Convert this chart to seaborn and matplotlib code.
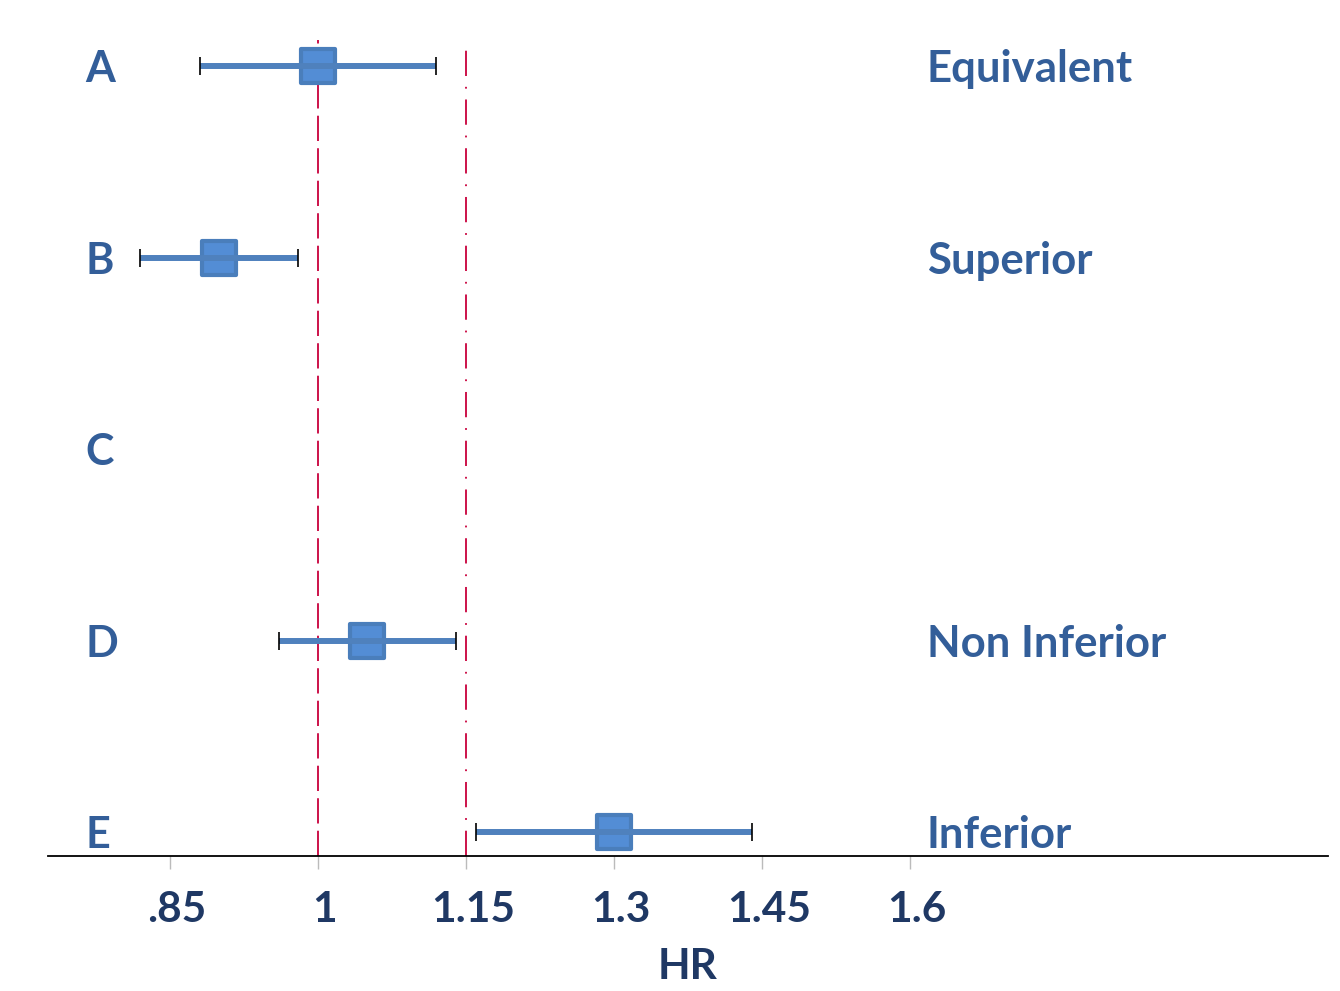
import matplotlib

matplotlib.use("Agg")

import matplotlib.pyplot as plt
import matplotlib.transforms as mtransforms
import numpy as np
import pandas as pd
import seaborn as sns


# Study rows, top to bottom
studies = ["A", "B", "C", "D", "E"]
rows = [5, 4, 3, 2, 1]
hr = [1.00, 0.90, np.nan, 1.05, 1.30]
ci_low = [0.88, 0.82, np.nan, 0.96, 1.16]
ci_high = [1.12, 0.98, np.nan, 1.14, 1.44]
verdicts = ["Equivalent", "Superior", "", "Non Inferior", "Inferior"]

tick_values = [0.85, 1.0, 1.15, 1.3, 1.45, 1.6]
tick_labels = [".85", "1", "1.15", "1.3", "1.45", "1.6"]

reference_hr = 1.0
margin_hr = 1.15

LABEL_COLOR = "#335E99"
TICK_COLOR = "#1F3864"
LINE_BLUE = "#4F81BD"
BOX_FILL = "#538DD5"
BOX_EDGE = "#4A7EBB"
MARGIN_RED = "#C8003C"

sns.set_theme(style="white")
plt.rcParams["font.family"] = ["Lato", "DejaVu Sans"]

df = pd.DataFrame(
    {
        "study": studies,
        "row": rows,
        "hr": hr,
        "low": ci_low,
        "high": ci_high,
    }
)
shown = df.dropna()

figure = plt.figure(figsize=(13.4, 9.91), dpi=100)

axis = figure.add_axes([48 / 1340, 135 / 991, 1280 / 1340, 856 / 991])

# reference and margin lines
axis.axvline(
    reference_hr,
    ymax=0.953,
    color=MARGIN_RED,
    linewidth=1.3,
    dashes=(14, 4),
    zorder=1,
)

axis.axvline(
    margin_hr,
    ymax=0.953,
    color=MARGIN_RED,
    linewidth=1.3,
    dashes=(14, 6, 1, 6),
    zorder=1,
)

# squares
sns.scatterplot(
    data=shown,
    x="hr",
    y="row",
    marker="s",
    s=590,
    color=BOX_FILL,
    edgecolor=BOX_EDGE,
    linewidth=3,
    zorder=3,
    legend=False,
    ax=axis,
)

# confidence intervals
axis.hlines(
    shown["row"],
    shown["low"],
    shown["high"],
    color=LINE_BLUE,
    linewidth=4.3,
    zorder=4,
)

for column in ["low", "high"]:
    sns.scatterplot(
        data=shown,
        x=column,
        y="row",
        marker="|",
        s=170,
        color="black",
        linewidth=1.2,
        zorder=5,
        legend=False,
        ax=axis,
    )

# row labels and verdicts
drop = mtransforms.ScaledTranslation(0, -3 / 100, figure.dpi_scale_trans)
for study, row, verdict in zip(studies, rows, verdicts):
    axis.text(
        0.764,
        row,
        study,
        ha="left",
        va="center",
        fontsize=31,
        fontweight="bold",
        color=LABEL_COLOR,
        transform=axis.transData + drop,
    )
    axis.text(
        1.617,
        row,
        verdict,
        ha="left",
        va="center",
        fontsize=31.5,
        fontweight="bold",
        color=LABEL_COLOR,
        transform=axis.transData + drop,
    )

axis.set_xlim(0.7264, 2.0236)
axis.set_ylim(0.8747, 5.345)

axis.set_xticks(tick_values)
axis.set_xticklabels(tick_labels)
axis.set_yticks([])

axis.tick_params(
    axis="x",
    direction="out",
    length=9,
    width=1,
    color="#BBBBBB",
    pad=16,
    labelsize=30.5,
    labelcolor=TICK_COLOR,
    bottom=True,
)

shift = mtransforms.ScaledTranslation(7 / 100, 0, figure.dpi_scale_trans)
for label in axis.get_xticklabels():
    label.set_fontweight("bold")
    label.set_transform(label.get_transform() + shift)

axis.set_xlabel(
    "HR",
    fontsize=30.5,
    fontweight="bold",
    color=TICK_COLOR,
    labelpad=14,
)
axis.set_ylabel("")

for side in ["top", "right", "left"]:
    axis.spines[side].set_visible(False)

axis.spines["bottom"].set_color("black")
axis.spines["bottom"].set_linewidth(1.3)

figure.savefig("out.png", dpi=100)
plt.close(figure)
